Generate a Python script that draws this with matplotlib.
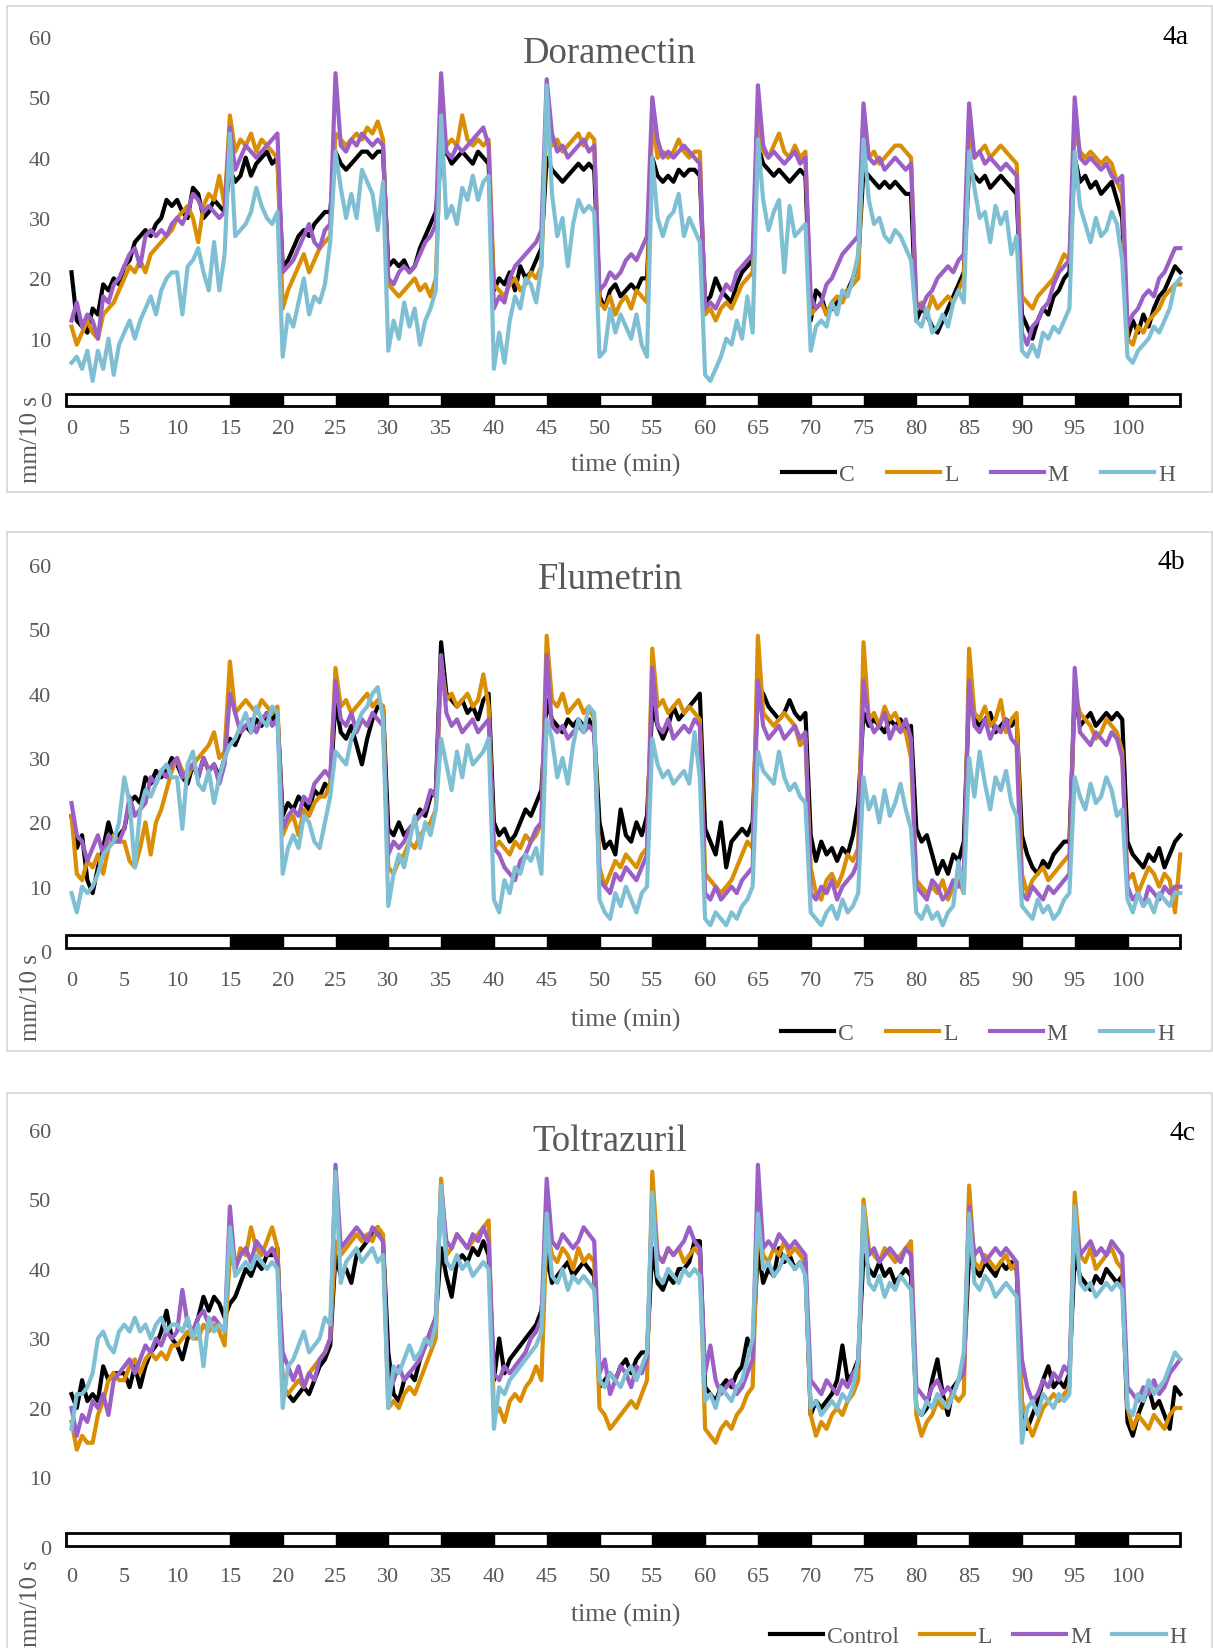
import numpy as np
import matplotlib
matplotlib.use('Agg')
import matplotlib.pyplot as plt
from matplotlib.patches import Rectangle

plt.rcParams['font.family'] = ['Liberation Serif', 'DejaVu Serif']

# time axis: one reading every 30 s, 0-105 min
minutes = np.arange(0, 105.5, 0.5)
dark_starts = [15, 25, 35, 45, 55, 65, 75, 85, 95]
x_ticks = list(range(0, 101, 5))
y_ticks = list(range(0, 61, 10))

# ---- 4a Doramectin (mm/10 s) ----
dora_C = [21,13,12,11,15,14,19,18,20,19, 22,23,26,27,28,27,29,30,33,32,
          33,31,30,35,34,30,31,33,32,31, 38,36,37,40,37,39,40,41,39,40,
          22,23,25,27,28,27,29,30,31,31, 41,39,38,39,40,41,41,40,41,41,
          22,23,22,23,21,22,25,27,29,31, 40,41,39,40,41,40,39,41,40,39,
          18,20,19,21,18,22,20,21,23,25, 40,38,37,36,37,38,39,38,39,38,
          17,15,18,19,17,18,19,18,20,20, 40,37,36,37,36,38,37,38,38,37,
          16,17,20,18,17,16,19,21,22,23, 42,39,38,37,38,37,36,37,38,37,
          13,18,17,14,15,16,17,18,20,23, 38,37,36,35,36,35,36,35,34,34,
          13,15,14,12,11,13,15,17,19,21, 38,37,36,37,35,36,37,36,35,34,
          14,12,10,13,15,14,17,18,20,21, 40,36,37,35,36,34,35,36,33,30,
          10,13,11,14,12,15,17,18,20,22, 21]
dora_L = [12,9,11,13,11,10,14,15,16,18, 20,22,21,23,21,24,25,26,27,28,
          30,31,32,30,26,32,34,33,37,32, 47,41,43,42,44,41,43,42,41,40,
          15,18,20,22,24,21,23,25,26,27, 44,43,42,43,44,43,45,44,46,43,
          19,18,17,18,19,20,18,19,17,20, 45,42,43,42,47,43,42,43,42,43,
          19,18,17,19,20,18,19,21,20,22, 48,42,43,41,42,43,44,42,44,43,
          16,15,17,14,16,17,15,18,17,16, 47,40,41,40,41,43,41,40,41,41,
          14,15,13,15,16,15,17,19,20,21, 46,41,40,42,44,41,40,42,40,41,
          14,15,16,14,16,17,16,18,19,20, 45,40,41,39,40,41,42,42,41,40,
          15,16,14,17,15,16,17,16,18,20, 45,40,41,42,40,41,42,41,40,39,
          17,16,15,17,18,19,20,22,24,23, 45,41,40,41,40,39,40,39,36,34,
          10,9,12,11,13,14,15,17,18,19, 19]
dora_M = [13,16,12,14,13,10,17,16,19,20, 22,24,25,22,27,28,27,28,27,29,
          30,29,31,34,33,31,32,31,30,31, 45,38,40,42,41,40,41,42,43,44,
          21,22,23,25,27,29,26,25,28,29, 54,42,41,43,42,44,43,42,43,42,
          20,19,21,22,21,22,24,26,27,29, 54,41,40,42,41,42,43,44,45,42,
          15,17,16,20,22,23,24,25,26,28, 53,44,41,42,40,41,42,43,41,42,
          18,19,21,20,21,23,24,23,25,27, 50,43,40,41,40,41,42,41,40,39,
          15,16,15,17,19,18,21,22,23,24, 52,42,40,41,40,39,40,41,39,40,
          17,15,16,19,20,22,24,25,26,27, 49,40,39,40,38,39,40,39,38,39,
          16,15,17,18,20,21,22,21,23,24, 49,40,41,39,40,39,38,39,38,37,
          11,9,12,13,15,16,19,21,22,23, 50,40,39,40,39,38,39,37,36,37,
          12,14,15,17,18,17,20,21,23,25, 25]
dora_H = [6,7,5,8,3,8,5,10,4,9, 11,13,10,13,15,17,14,18,20,21,
          21,14,22,23,25,21,18,26,18,24, 44,27,28,29,31,35,32,30,29,31,
          7,14,12,16,20,14,17,16,19,26, 41,35,30,34,30,38,36,34,28,36,
          8,13,10,16,12,15,9,13,15,18, 47,30,32,29,35,33,37,33,36,37,
          5,11,6,13,17,15,20,19,16,22, 52,34,27,30,22,29,33,31,32,31,
          7,8,15,11,14,12,10,14,9,7, 40,30,27,30,31,34,27,30,28,26,
          4,3,5,7,10,9,13,10,17,11, 43,33,28,31,33,21,32,27,28,29,
          8,12,13,12,16,14,18,17,20,24, 43,33,29,30,27,26,28,27,25,23,
          13,12,15,11,12,14,12,16,18,16, 41,35,30,31,26,32,29,31,24,27,
          8,7,9,7,11,10,12,11,13,15, 41,32,29,26,30,27,28,31,29,23,
          7,6,8,9,10,12,11,13,15,19, 20]

# ---- 4b Flumetrin ----
flum_C = [21,16,18,11,9,13,16,20,17,18, 19,23,24,23,27,26,28,27,28,30,
          29,27,26,29,27,30,28,29,27,30, 33,32,34,35,34,36,35,37,36,37,
          21,23,22,24,23,22,25,24,26,25, 39,34,33,35,32,29,33,36,38,38,
          19,18,20,18,19,20,22,21,24,25, 48,40,39,38,39,37,38,36,39,40,
          20,18,19,17,18,20,22,21,23,25, 39,36,35,34,36,35,36,35,36,34,
          20,16,17,15,22,18,17,20,18,21, 38,35,33,35,38,36,37,38,39,40,
          19,17,15,20,13,17,18,19,18,20, 41,40,38,37,36,37,39,37,36,37,
          18,14,17,15,16,14,16,15,18,23, 37,35,36,35,34,36,35,36,34,35,
          19,17,18,15,12,14,12,15,14,17, 40,36,35,36,37,34,35,36,35,36,
          18,15,13,12,14,13,15,16,17,17, 40,35,36,37,35,36,37,36,37,36,
          17,15,14,13,15,14,16,13,15,17, 18]
flum_L = [21,12,11,14,13,15,12,16,18,17, 17,14,13,16,20,15,20,22,25,28,
          30,28,27,29,30,31,32,34,30,31, 45,37,38,39,38,37,39,38,37,38,
          18,20,21,18,22,21,23,24,24,26, 44,38,39,37,38,39,40,38,39,38,
          13,12,14,15,17,16,18,19,20,22, 45,39,40,38,39,40,38,39,43,38,
          16,17,16,15,17,16,18,17,18,20, 49,39,38,40,37,38,39,37,38,36,
          13,10,12,14,13,15,14,13,15,16, 47,38,39,37,38,39,37,38,37,36,
          12,11,10,9,10,11,13,15,17,16, 49,37,36,35,36,37,36,35,32,33,
          13,9,8,11,12,10,12,15,14,16, 48,36,37,35,38,36,37,35,34,30,
          11,10,9,10,9,11,8,10,11,9, 47,37,36,38,35,36,39,34,36,37,
          12,9,11,12,13,11,12,13,14,15, 40,37,36,35,33,34,36,35,34,31,
          11,12,9,11,13,12,10,12,11,6, 15]
flum_M = [23,18,17,14,16,18,15,18,17,17, 19,24,21,22,23,27,26,28,27,29,
          30,27,28,29,27,30,28,29,26,29, 40,37,34,35,36,34,36,37,35,36,
          19,21,22,21,24,23,26,27,28,27, 42,36,35,37,34,36,35,37,36,35,
          15,17,16,17,19,20,21,22,25,24, 46,37,35,36,34,35,36,34,35,36,
          16,15,13,12,11,14,15,17,19,20, 46,35,34,35,33,34,35,34,35,34,
          11,10,9,12,11,13,12,11,13,15, 44,35,34,36,33,34,35,34,36,35,
          9,8,10,8,9,10,9,11,12,13, 42,35,33,34,35,33,34,35,33,34,
          9,8,10,9,11,8,10,11,12,14, 42,36,34,35,37,33,35,34,36,33,
          10,9,8,11,10,8,9,11,10,12, 42,35,34,36,33,35,34,36,33,32,
          9,8,10,9,8,10,9,10,11,12, 44,34,33,32,34,33,32,34,33,30,
          10,8,9,7,10,9,8,10,9,10, 10]
flum_H = [9,6,10,9,10,12,15,16,17,20, 27,23,13,22,25,24,26,28,29,27,
          27,19,29,31,26,25,28,23,27,30, 32,33,35,37,34,38,36,35,38,37,
          12,16,18,16,21,20,17,16,20,24, 31,30,29,33,35,37,38,40,41,36,
          7,12,15,13,17,21,16,20,18,22, 33,29,25,31,27,32,29,30,31,33,
          8,6,11,9,13,12,15,14,16,12, 36,33,27,30,26,32,36,34,38,37,
          8,6,5,9,7,10,8,6,9,10, 33,29,27,28,26,27,28,26,34,27,
          5,4,6,5,4,6,5,7,8,10, 31,28,27,26,31,27,25,26,24,23,
          6,5,4,6,7,5,8,6,7,9, 27,22,24,20,25,21,23,26,22,19,
          6,5,7,5,6,4,6,7,14,9, 30,24,31,26,22,27,25,28,23,21,
          7,6,5,8,6,7,5,6,8,9, 27,24,22,26,23,24,27,25,21,22,
          8,6,9,7,8,6,9,8,7,9, 9]

# ---- 4c Toltrazuril ----
tolt_C = [22,20,24,21,22,21,26,24,25,25, 25,23,26,23,26,28,29,31,34,30,
          29,27,30,31,33,36,34,36,35,33, 35,36,38,40,39,41,40,42,42,43,
          23,22,21,22,23,22,24,26,27,29, 42,39,40,38,42,43,44,45,46,44,
          28,22,21,24,25,24,27,29,31,33, 43,39,36,41,42,41,43,42,44,42,
          24,30,25,27,28,29,30,31,32,34, 42,38,39,40,41,39,40,41,40,39,
          23,24,25,24,26,27,25,27,28,28, 43,38,37,39,38,40,40,41,44,44,
          23,22,21,23,24,23,25,26,30,28, 43,38,40,39,43,41,42,40,41,40,
          19,21,20,21,22,24,29,24,25,27, 42,40,39,41,39,40,38,39,40,39,
          20,19,20,24,27,22,19,23,24,26, 42,40,39,41,40,39,41,40,41,40,
          20,17,19,21,24,26,23,24,23,25, 42,39,38,37,39,38,40,39,38,39,
          18,16,19,21,23,20,21,19,17,23, 22]
tolt_L = [18,14,16,15,15,19,21,24,25,24, 24,26,27,25,27,28,27,28,27,29,
          29,30,31,30,30,32,31,32,31,29, 42,40,43,42,46,43,42,44,46,43,
          23,22,23,24,23,25,26,27,28,30, 44,42,43,44,45,44,45,44,46,45,
          20,21,20,22,23,22,24,26,28,30, 53,42,43,45,44,43,44,45,46,47,
          19,20,18,21,22,21,23,24,26,24, 46,42,41,43,42,40,43,41,42,41,
          20,19,17,18,19,20,21,20,22,24, 54,42,41,43,42,43,41,42,43,42,
          17,16,15,17,18,17,19,20,22,23, 47,42,41,43,42,44,42,43,42,41,
          19,16,18,17,19,20,19,21,22,24, 50,43,42,41,43,42,41,42,43,44,
          19,16,18,19,21,20,21,22,21,22, 52,41,40,42,41,40,41,42,40,41,
          21,18,16,18,20,21,22,21,22,23, 51,42,41,43,40,41,42,43,41,40,
          20,17,19,18,17,19,18,17,19,20, 20]
tolt_M = [20,16,19,18,21,20,22,19,24,25, 26,27,25,27,29,28,30,29,31,30,
          31,37,32,31,33,34,32,33,32,31, 49,40,42,43,41,44,43,42,43,41,
          28,26,24,26,23,25,24,27,28,30, 55,43,44,45,46,45,44,46,45,44,
          22,24,26,24,25,26,27,29,31,33, 52,44,43,45,44,43,45,44,46,44,
          25,24,26,25,26,27,28,30,31,33, 53,44,43,45,44,43,44,46,45,44,
          25,27,22,24,26,25,23,26,25,27, 50,42,41,43,42,43,44,46,44,43,
          25,29,24,22,23,24,22,23,25,27, 55,43,44,43,45,44,43,44,43,42,
          24,23,22,24,23,22,24,23,25,26, 47,42,43,41,42,43,42,41,43,42,
          23,22,21,23,24,22,23,22,24,25, 49,42,43,41,42,43,42,43,42,41,
          27,23,21,22,24,23,25,24,26,25, 48,42,43,44,42,43,42,44,43,42,
          23,22,21,23,22,24,22,23,25,26, 27]
tolt_H = [17,22,22,23,25,30,31,29,28,31, 32,31,33,31,32,30,32,33,31,32,
          32,31,33,30,32,26,33,31,32,31, 46,39,40,41,40,42,41,40,41,40,
          20,26,27,29,31,28,29,30,33,32, 54,38,41,42,43,41,42,43,41,42,
          20,26,25,27,29,27,28,30,29,32, 52,41,40,42,40,41,39,40,41,40,
          17,23,22,24,25,26,27,28,29,31, 48,39,38,40,37,39,38,39,38,37,
          24,23,25,24,23,25,26,24,26,28, 51,39,38,40,39,38,40,39,40,39,
          21,22,20,23,22,21,23,24,27,30, 48,40,41,39,40,42,41,40,41,39,
          20,21,19,20,21,20,22,21,23,27, 49,38,37,39,36,38,37,39,38,37,
          20,19,21,20,22,21,20,22,24,28, 48,38,37,39,38,36,37,38,37,36,
          15,20,21,19,22,21,20,22,21,22, 49,38,37,38,36,37,38,37,38,37,
          20,19,22,21,24,22,23,24,26,28, 27]

series_colors = ['#000000', '#D98E04', '#9B5FC6', '#7FBFD4']
grey = '#595959'

W, H = 1213, 1649
fig = plt.figure(figsize=(W / 100, H / 100), dpi=100)

X0, PPM = 71.5, 10.56      # pixel of minute 0, pixels per minute
XLIM = (-1, 106)

panels = [
    dict(title='Doramectin', tag='4a', data=[dora_C, dora_L, dora_M, dora_H],
         names=['C', 'L', 'M', 'H'], box=(7, 493), zero=400, sixty=38,
         bar=(-1.15, 0.75), title_y=63, tag_xy=(1176, 44), xlab_y=472,
         ylab_y=440, leg_xy=(782, 475), colsp=1.36),
    dict(title='Flumetrin', tag='4b', data=[flum_C, flum_L, flum_M, flum_H],
         names=['C', 'L', 'M', 'H'], box=(533, 1052), zero=952, sixty=566,
         bar=(0.5, 2.5), title_y=589, tag_xy=(1171, 569), xlab_y=1027,
         ylab_y=998, leg_xy=(781, 1034), colsp=1.36),
    dict(title='Toltrazuril', tag='4c', data=[tolt_C, tolt_L, tolt_M, tolt_H],
         names=['Control', 'L', 'M', 'H'], box=(1094, 1660), zero=1548, sixty=1131,
         bar=(0.2, 2.0), title_y=1151, tag_xy=(1183, 1140), xlab_y=1622,
         ylab_y=1604, leg_xy=(770, 1637), colsp=0.9),
]

for p in panels:
    # panel frame
    top, bot = p['box']
    fig.add_artist(Rectangle((7 / W, 1 - bot / H), 1205 / W, (bot - top) / H,
                             transform=fig.transFigure, fill=False,
                             edgecolor='#D9D9D9', lw=1.3))

    ppu = (p['zero'] - p['sixty']) / 60.0
    below = 17
    ytop = 62
    ax_top = p['zero'] - ytop * ppu
    ax_bot = p['zero'] + below
    left = X0 + XLIM[0] * PPM
    right = X0 + XLIM[1] * PPM
    ax = fig.add_axes([left / W, 1 - ax_bot / H, (right - left) / W, (ax_bot - ax_top) / H])
    ax.patch.set_alpha(0)

    lines = []
    for vals, col in zip(p['data'], series_colors):
        ln, = ax.plot(minutes[:len(vals)], vals, color=col, lw=3.0)
        lines.append(ln)

    # light / dark bar
    lo, hi = p['bar']
    ax.add_patch(Rectangle((-0.5, lo), 105.5, hi - lo, facecolor='white',
                           edgecolor='black', lw=2, zorder=5))
    for s in dark_starts:
        ax.add_patch(Rectangle((s, lo), 5, hi - lo, facecolor='black',
                               edgecolor='black', lw=1, zorder=6))

    ax.set_xlim(*XLIM)
    ax.set_ylim(-below / ppu, ytop)
    ax.set_xticks(x_ticks)
    ax.set_yticks(y_ticks)
    ax.tick_params(axis='x', length=0, pad=2.5, labelsize=16, labelcolor=grey)
    ax.tick_params(axis='y', length=0, pad=7, labelsize=16, labelcolor=grey)
    for sp in ax.spines.values():
        sp.set_visible(False)

    fig.text(610 / W, 1 - p['title_y'] / H, p['title'], ha='center', va='baseline',
             fontsize=26.5, color=grey)
    fig.text(p['tag_xy'][0] / W, 1 - p['tag_xy'][1] / H, p['tag'], ha='center',
             va='baseline', fontsize=20, color='black')
    fig.text(626 / W, 1 - p['xlab_y'] / H, 'time (min)', ha='center', va='baseline',
             fontsize=18.5, color=grey)
    fig.text(31 / W, 1 - p['ylab_y'] / H, 'mm/10 s', rotation=90, ha='center',
             va='center', fontsize=18, color=grey)

    leg = fig.legend(lines, p['names'], loc='center left',
                     bbox_to_anchor=(p['leg_xy'][0] / W, 1 - p['leg_xy'][1] / H),
                     ncol=4, frameon=False, fontsize=17, handlelength=2.25,
                     handletextpad=0.17, columnspacing=p['colsp'], borderpad=0,
                     borderaxespad=0, labelcolor=grey)
    for h in leg.legend_handles:
        h.set_linewidth(3)

fig.savefig('out.png', dpi=100)
